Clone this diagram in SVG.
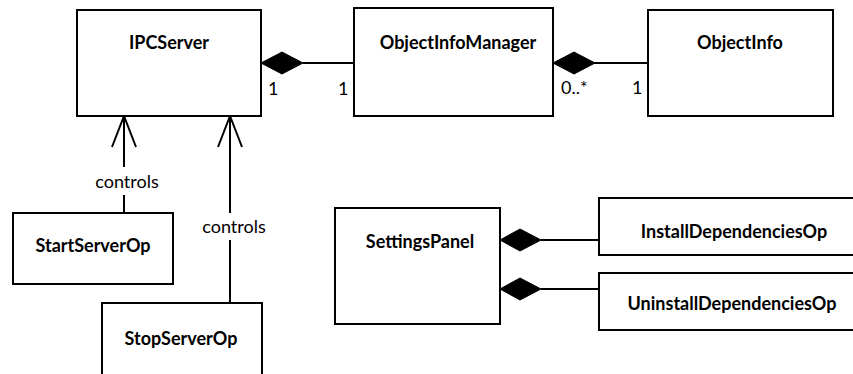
<svg xmlns="http://www.w3.org/2000/svg" width="853" height="374" viewBox="0 0 853 374">
  <style>
    .box { fill: #fff; stroke: #000; stroke-width: 2; }
    .name { font-family: Lato, "Liberation Sans", sans-serif; font-weight: bold; font-size: 18px; text-anchor: middle; fill: #000; }
    .lbl { font-family: Lato, "Liberation Sans", sans-serif; font-size: 18px; fill: #000; }
    .line { stroke: #000; stroke-width: 2; fill: none; }
    .diamond { fill: #000; stroke: #000; stroke-width: 1; }
  </style>
  <rect width="853" height="374" fill="#fff"/>

  <g id="connectors">
    <!-- IPCServer composes ObjectInfoManager -->
    <line class="line" x1="303" y1="63" x2="354" y2="63"/>
    <polygon class="diamond" points="261,63 282,52 303,63 282,74"/>
    <text class="lbl" x="268" y="95">1</text>
    <text class="lbl" x="338" y="95">1</text>

    <!-- ObjectInfoManager composes ObjectInfo -->
    <line class="line" x1="594" y1="63" x2="648" y2="63"/>
    <polygon class="diamond" points="553,63 574,52 595,63 574,74"/>
    <text class="lbl" x="561" y="94">0..*</text>
    <text class="lbl" x="632" y="94">1</text>

    <!-- StartServerOp controls IPCServer -->
    <line class="line" x1="124" y1="116" x2="124" y2="167"/>
    <line class="line" x1="124" y1="195" x2="124" y2="213"/>
    <polyline class="line" points="112,147 124,116 136,147"/>
    <text class="lbl" x="127" y="188" text-anchor="middle">controls</text>

    <!-- StopServerOp controls IPCServer -->
    <line class="line" x1="230" y1="116" x2="230" y2="213"/>
    <line class="line" x1="230" y1="240" x2="230" y2="303"/>
    <polyline class="line" points="218,147 230,116 242,147"/>
    <text class="lbl" x="234" y="233" text-anchor="middle">controls</text>

    <!-- SettingsPanel composes the dependency operations -->
    <line class="line" x1="541" y1="240" x2="599" y2="240"/>
    <polygon class="diamond" points="500,240 520,229 541,240 520,251"/>
    <line class="line" x1="541" y1="289" x2="599" y2="289"/>
    <polygon class="diamond" points="500,289 520,278 541,289 520,300"/>
  </g>

  <g id="IPCServer">
    <rect class="box" x="77" y="10" width="184" height="106"/>
    <text class="name" x="169" y="49">IPCServer</text>
  </g>
  <g id="ObjectInfoManager">
    <rect class="box" x="354" y="8" width="199" height="108"/>
    <text class="name" x="458" y="49">ObjectInfoManager</text>
  </g>
  <g id="ObjectInfo">
    <rect class="box" x="648" y="10" width="185" height="106"/>
    <text class="name" x="740" y="49">ObjectInfo</text>
  </g>
  <g id="StartServerOp">
    <rect class="box" x="13" y="213" width="160" height="71"/>
    <text class="name" x="93" y="252">StartServerOp</text>
  </g>
  <g id="StopServerOp">
    <rect class="box" x="102" y="303" width="160" height="80"/>
    <text class="name" x="181" y="345">StopServerOp</text>
  </g>
  <g id="SettingsPanel">
    <rect class="box" x="335" y="208" width="165" height="116"/>
    <text class="name" x="420" y="248">SettingsPanel</text>
  </g>
  <g id="InstallDependenciesOp">
    <rect class="box" x="599" y="198" width="270" height="57"/>
    <text class="name" x="734" y="238">InstallDependenciesOp</text>
  </g>
  <g id="UninstallDependenciesOp">
    <rect class="box" x="599" y="273" width="270" height="57"/>
    <text class="name" x="732" y="310">UninstallDependenciesOp</text>
  </g>
</svg>
